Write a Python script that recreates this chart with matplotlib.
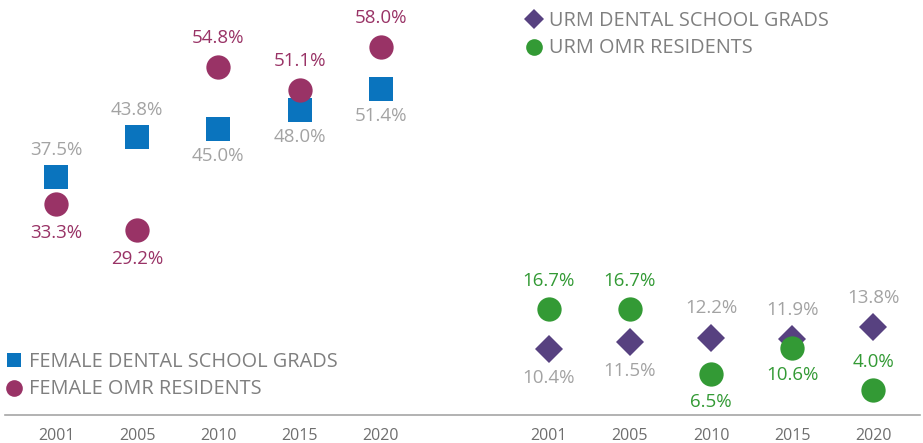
import matplotlib
matplotlib.use("Agg")
import matplotlib.pyplot as plt
from matplotlib.lines import Line2D

plt.rcParams["font.family"] = ["Open Sans", "DejaVu Sans"]

# ------------------------------------------------------------------
# Data
# ------------------------------------------------------------------
years = ["2001", "2005", "2010", "2015", "2020"]
female_grads = [37.5, 43.8, 45.0, 48.0, 51.4]
female_omr = [33.3, 29.2, 54.8, 51.1, 58.0]
urm_grads = [10.4, 11.5, 12.2, 11.9, 13.8]
urm_omr = [16.7, 16.7, 6.5, 10.6, 4.0]

# label side: 1 = above, -1 = below
fg_side = [1, 1, -1, -1, -1]
fo_side = [-1, -1, 1, 1, 1]
ug_side = [-1, -1, 1, 1, 1]
uo_side = [1, 1, -1, -1, 1]

blue = "#0a74be"
plum = "#993366"
violet = "#574180"
green = "#339a35"
gray_lbl = "#a3a3a3"
gray_txt = "#7f7f7f"
gray_tick = "#6e6e6e"

left_x = [0, 1, 2, 3, 4]
right_x = [x + 6.07 for x in left_x]

fig = plt.figure(figsize=(9.23, 4.43), dpi=100)
ax = fig.add_axes([0, 28 / 443, 1, 415 / 443])
ax.set_xlim(-0.69, 10.68)
ax.set_ylim(0, 65.35)


def labels(xs, vals, sides, color, off=19.5):
    for x, v, s in zip(xs, vals, sides):
        ax.annotate(f"{v:.1f}%", (x, v), xytext=(0, s * off),
                    textcoords="offset points", ha="center", va="center",
                    fontsize=13.5, color=color)


ax.plot(left_x, female_grads, "s", ms=17, color=blue, mew=0, zorder=3)
ax.plot(left_x, female_omr, "o", ms=17.5, color=plum, mew=0, zorder=3)
ax.plot(right_x, urm_grads, "D", ms=14.5, color=violet, mew=0, zorder=3)
ax.plot(right_x, urm_omr, "o", ms=17.5, color=green, mew=0, zorder=4)

labels(left_x, female_grads, fg_side, gray_lbl)
labels(left_x, female_omr, fo_side, plum, off=21)
labels(right_x, urm_grads, ug_side, gray_lbl, off=21)
labels(right_x, urm_omr, uo_side, green, off=20)

ax.set_xticks(left_x + right_x)
ax.set_xticklabels(years + years, fontsize=11.5, color=gray_tick)
ax.tick_params(axis="x", length=0, pad=9)
ax.set_yticks([])
for s in ["top", "left", "right"]:
    ax.spines[s].set_visible(False)
ax.spines["bottom"].set_color("#a6a6a6")
ax.spines["bottom"].set_linewidth(1.2)
ax.spines["bottom"].set_bounds(-0.63, 10.64)

left_handles = [
    Line2D([0], [0], lw=0, marker="s", ms=10.5, color=blue, mew=0,
           label="FEMALE DENTAL SCHOOL GRADS"),
    Line2D([0], [0], lw=0, marker="o", ms=12, color=plum, mew=0,
           label="FEMALE OMR RESIDENTS"),
]
right_handles = [
    Line2D([0], [0], lw=0, marker="D", ms=10, color=violet, mew=0,
           label="URM DENTAL SCHOOL GRADS"),
    Line2D([0], [0], lw=0, marker="o", ms=12, color=green, mew=0,
           label="URM OMR RESIDENTS"),
]
leg1 = fig.legend(handles=left_handles, loc="upper left",
                  bbox_to_anchor=(0.0, 1 - 344 / 443), frameon=False,
                  fontsize=14.3, labelcolor=gray_txt, handlelength=0.6,
                  handletextpad=0.45, labelspacing=0.38, borderaxespad=0)
leg2 = fig.legend(handles=right_handles, loc="upper left",
                  bbox_to_anchor=(520 / 923, 1 - 3 / 443), frameon=False,
                  fontsize=14.3, labelcolor=gray_txt, handlelength=0.6,
                  handletextpad=0.45, labelspacing=0.38, borderaxespad=0)

fig.savefig("out.png", dpi=100)
